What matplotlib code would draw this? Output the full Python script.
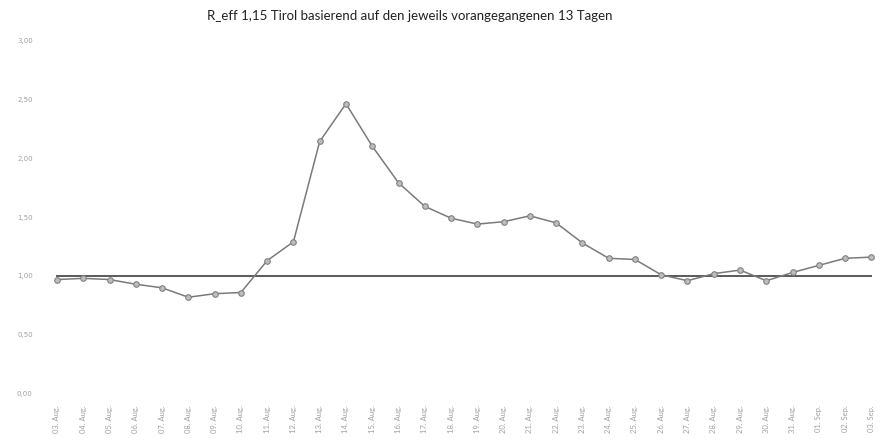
import matplotlib
matplotlib.use("Agg")
import matplotlib.pyplot as plt

# R_eff values per day (3 Aug - 3 Sep)
dates = ["03. Aug.", "04. Aug.", "05. Aug.", "06. Aug.", "07. Aug.", "08. Aug.",
         "09. Aug.", "10. Aug.", "11. Aug.", "12. Aug.", "13. Aug.", "14. Aug.",
         "15. Aug.", "16. Aug.", "17. Aug.", "18. Aug.", "19. Aug.", "20. Aug.",
         "21. Aug.", "22. Aug.", "23. Aug.", "24. Aug.", "25. Aug.", "26. Aug.",
         "27. Aug.", "28. Aug.", "29. Aug.", "30. Aug.", "31. Aug.", "01. Sep.",
         "02. Sep.", "03. Sep."]
r_eff = [0.97, 0.98, 0.97, 0.93, 0.90, 0.82, 0.85, 0.86, 1.13, 1.29, 2.14, 2.46,
         2.10, 1.79, 1.59, 1.49, 1.44, 1.46, 1.51, 1.45, 1.28, 1.15, 1.14, 1.01,
         0.96, 1.02, 1.05, 0.96, 1.03, 1.09, 1.15, 1.16]
threshold = [1.0] * len(dates)

yticks = [0, 0.5, 1.0, 1.5, 2.0, 2.5, 3.0]
ytick_labels = ["0,00", "0,50", "1,00", "1,50", "2,00", "2,50", "3,00"]

plt.rcParams['font.family'] = ['Lato', 'DejaVu Sans']

fig = plt.figure(figsize=(8.84, 4.46), dpi=100)
ax = fig.add_axes([0.0496, 0.1166, 0.951, 0.7937])

x = list(range(len(dates)))
ax.plot(x, threshold, color='#5a5a5a', linewidth=1.4, zorder=2)
ax.plot(x, r_eff, color='#7a7a7a', linewidth=1.1, marker='o', markersize=4,
        markerfacecolor='#bdbdbd', markeredgecolor='#808080', markeredgewidth=0.8,
        zorder=3)

ax.set_xlim(-0.5, len(dates) - 0.5)
ax.set_ylim(0, 3)
ax.set_yticks(yticks)
ax.set_yticklabels(ytick_labels, fontsize=5, color='#a0a0a0', family='DejaVu Sans')
ax.set_xticks(x)
ax.set_xticklabels(dates, rotation=90, fontsize=5.5, color='#a0a0a0')
ax.tick_params(length=0, pad=8)
for s in ax.spines.values():
    s.set_visible(False)

fig.text(0.463, 0.965, "R_eff 1,15 Tirol basierend auf den jeweils vorangegangenen 13 Tagen",
         ha='center', va='center', fontsize=9.5, color='#222222')

fig.savefig("out.png", dpi=100)
